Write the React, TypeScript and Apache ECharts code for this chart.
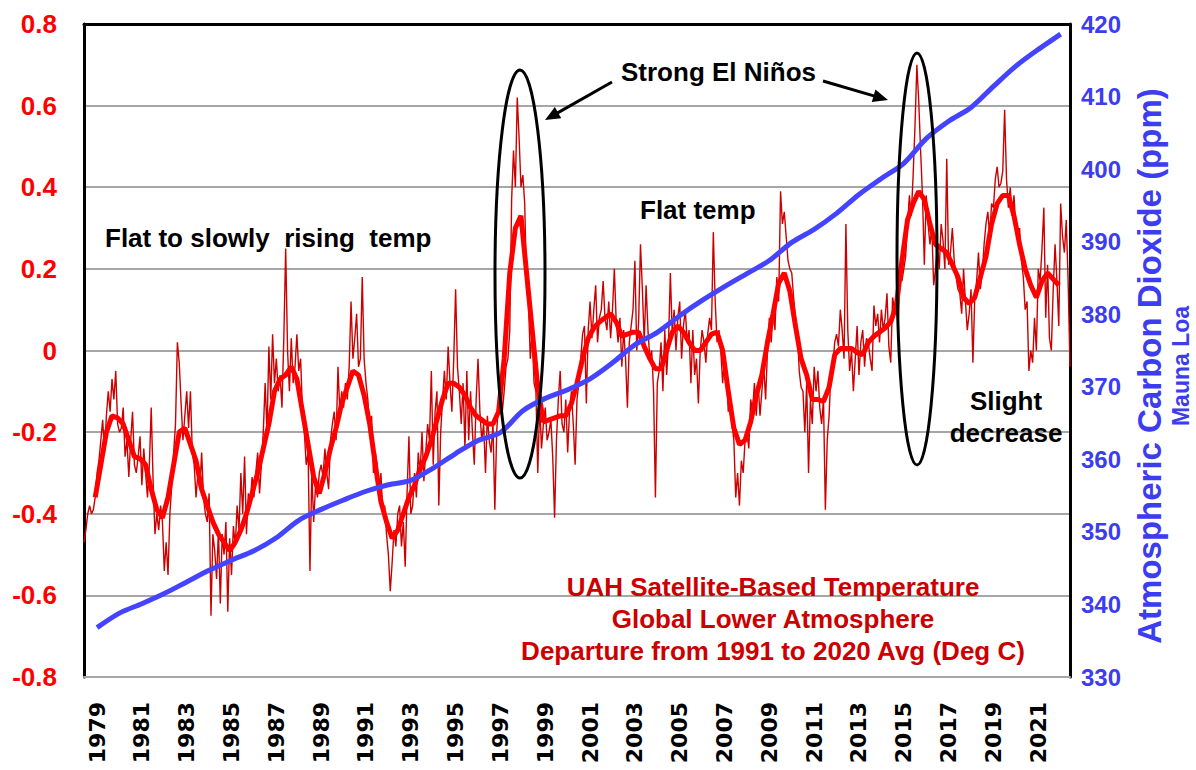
import React, { useEffect, useRef } from "react";
import * as echarts from "echarts";

// UAH global lower-troposphere monthly anomaly (deg C), Dec 1978 .. Dec 2022
const uahMonthly: number[] = [
  -0.47, // 1978 Dec
  -0.44, -0.40, -0.38, -0.40, -0.39, -0.36, -0.30, -0.27, -0.22, -0.17, -0.25, -0.16, // 1979
  -0.10, -0.15, -0.07, -0.12, -0.05, -0.18, -0.20, -0.19, -0.14, -0.26, -0.22, -0.31, // 1980
  -0.22, -0.15, -0.28, -0.30, -0.26, -0.21, -0.33, -0.24, -0.30, -0.36, -0.28, -0.14, // 1981
  -0.32, -0.45, -0.40, -0.44, -0.38, -0.42, -0.54, -0.47, -0.55, -0.40, -0.33, -0.25, // 1982
  -0.18, 0.02, -0.03, -0.13, -0.22, -0.16, -0.10, -0.19, -0.10, -0.25, -0.28, -0.36, // 1983
  -0.30, -0.34, -0.25, -0.36, -0.40, -0.42, -0.35, -0.65, -0.45, -0.49, -0.56, -0.44, // 1984
  -0.62, -0.45, -0.50, -0.42, -0.64, -0.46, -0.55, -0.43, -0.48, -0.38, -0.44, -0.30, // 1985
  -0.40, -0.26, -0.45, -0.35, -0.38, -0.31, -0.36, -0.30, -0.25, -0.35, -0.28, -0.20, // 1986
  -0.08, -0.20, 0.01, -0.12, 0.04, -0.08, -0.02, -0.10, -0.06, -0.14, 0.03, 0.25, // 1987
  0.00, -0.10, 0.03, -0.08, -0.04, 0.04, -0.05, -0.02, -0.15, -0.20, -0.28, -0.25, // 1988
  -0.54, -0.30, -0.42, -0.33, -0.36, -0.30, -0.28, -0.31, -0.24, -0.30, -0.34, -0.22, // 1989
  -0.18, -0.15, -0.22, -0.04, -0.15, -0.10, -0.14, -0.08, -0.12, -0.04, 0.12, -0.02, // 1990
  0.03, 0.09, -0.04, -0.02, 0.18, -0.02, -0.08, -0.12, -0.20, -0.16, -0.30, -0.25, // 1991
  -0.28, -0.36, -0.30, -0.40, -0.38, -0.45, -0.50, -0.59, -0.52, -0.44, -0.48, -0.40, // 1992
  -0.38, -0.48, -0.42, -0.53, -0.35, -0.21, -0.40, -0.38, -0.30, -0.36, -0.25, -0.30, // 1993
  -0.20, -0.32, -0.25, -0.18, -0.22, -0.05, -0.28, -0.15, -0.10, -0.38, -0.20, -0.12, // 1994
  -0.05, -0.12, 0.01, -0.08, -0.15, -0.02, 0.15, -0.04, -0.10, -0.18, -0.08, -0.24, // 1995
  -0.05, -0.22, -0.10, -0.20, -0.28, -0.12, -0.02, -0.15, -0.22, -0.18, -0.30, -0.16, // 1996
  -0.22, -0.25, -0.18, -0.39, -0.20, -0.12, -0.08, -0.15, -0.10, -0.04, -0.02, 0.05, // 1997
  0.37, 0.49, 0.40, 0.62, 0.52, 0.40, 0.43, 0.36, 0.15, 0.12, -0.02, 0.05, // 1998
  -0.08, -0.10, -0.30, -0.13, -0.24, -0.18, -0.14, -0.22, -0.20, -0.17, -0.26, -0.41, // 1999
  -0.22, -0.12, -0.05, -0.18, -0.20, -0.12, -0.25, -0.15, -0.10, -0.18, -0.28, -0.12, // 2000
  -0.08, -0.02, 0.04, 0.06, -0.13, 0.05, 0.12, 0.03, 0.10, 0.16, 0.02, 0.08, // 2001
  0.10, 0.17, 0.08, 0.05, 0.12, 0.03, 0.10, 0.20, 0.07, 0.02, 0.08, -0.04, // 2002
  0.05, -0.02, -0.14, 0.02, 0.06, 0.10, 0.22, 0.00, 0.07, 0.26, 0.15, 0.02, // 2003
  0.16, 0.05, -0.02, 0.00, -0.10, -0.36, -0.08, -0.05, 0.02, -0.10, 0.05, -0.06, // 2004
  0.02, 0.19, 0.04, 0.10, 0.00, 0.08, 0.12, -0.02, 0.06, 0.10, 0.02, 0.05, // 2005
  -0.08, 0.05, -0.06, -0.02, -0.13, 0.00, 0.05, 0.02, -0.03, 0.04, 0.08, 0.05, // 2006
  0.29, 0.12, 0.02, 0.05, 0.00, -0.08, -0.02, -0.05, -0.15, -0.10, -0.18, -0.22, // 2007
  -0.36, -0.30, -0.38, -0.27, -0.30, -0.22, -0.20, -0.24, -0.12, -0.15, -0.08, -0.16, // 2008
  -0.08, -0.16, -0.10, -0.04, -0.12, 0.00, 0.08, 0.02, 0.10, 0.05, 0.18, 0.12, // 2009
  0.39, 0.31, 0.34, 0.28, 0.22, 0.20, 0.19, 0.13, 0.08, 0.05, -0.05, -0.09, // 2010
  -0.10, -0.20, -0.08, -0.30, -0.12, -0.18, -0.04, -0.10, -0.05, -0.14, -0.18, -0.12, // 2011
  -0.39, -0.22, -0.16, -0.05, -0.04, 0.02, 0.04, 0.01, 0.10, 0.05, -0.02, 0.31, // 2012
  0.05, -0.05, 0.00, -0.10, -0.02, 0.06, -0.06, 0.02, 0.05, -0.04, 0.03, 0.02, // 2013
  -0.02, -0.05, 0.11, 0.06, 0.09, 0.02, 0.10, 0.05, 0.08, 0.14, 0.01, -0.03, // 2014
  0.13, 0.10, 0.12, 0.06, 0.18, 0.17, 0.20, 0.23, 0.31, 0.38, 0.33, 0.43, // 2015
  0.55, 0.70, 0.61, 0.49, 0.38, 0.21, 0.38, 0.31, 0.26, 0.30, 0.16, 0.20, // 2016
  0.26, 0.20, 0.31, 0.27, 0.20, 0.47, 0.21, 0.24, 0.30, 0.22, 0.18, 0.15, // 2017
  0.14, 0.09, 0.20, 0.12, 0.05, 0.09, 0.15, -0.03, 0.13, 0.17, 0.24, 0.15, // 2018
  0.19, 0.26, 0.31, 0.34, 0.28, 0.36, 0.35, 0.42, 0.45, 0.40, 0.41, 0.44, // 2019
  0.59, 0.42, 0.35, 0.40, 0.33, 0.38, 0.30, 0.28, 0.30, 0.22, 0.18, 0.10, // 2020
  0.12, -0.05, 0.00, -0.03, 0.08, 0.00, 0.20, 0.17, 0.25, 0.35, 0.08, 0.21, // 2021
  0.03, 0.00, 0.15, 0.26, 0.17, 0.06, 0.36, 0.28, 0.24, 0.32, 0.17, -0.04, // 2022
];
const uahFirstYear = 1978;
const uahFirstMonth = 12;

// 13-month running average, read every 3 months, starting Jun 1979
const runAvgFirstYear = 1979;
const runAvgFirstMonth = 6;
const runAvgStepMonths = 3;
const uahRunningAvg: number[] = [
  -0.36, -0.28, -0.20, -0.16, -0.165, -0.18, -0.22, -0.26, -0.265, -0.28, -0.34, -0.39,
  -0.41, -0.36, -0.28, -0.20, -0.19, -0.23, -0.27, -0.34, -0.38, -0.42, -0.45, -0.47,
  -0.49, -0.47, -0.44, -0.40, -0.35, -0.30, -0.24, -0.18, -0.10, -0.07, -0.06, -0.04,
  -0.07, -0.15, -0.23, -0.31, -0.35, -0.30, -0.24, -0.19, -0.13, -0.09, -0.05, -0.06,
  -0.11, -0.18, -0.28, -0.37, -0.42, -0.46, -0.44, -0.40, -0.36, -0.33, -0.29, -0.26,
  -0.22, -0.17, -0.12, -0.08, -0.08, -0.09, -0.11, -0.14, -0.16, -0.17, -0.18, -0.18,
  -0.15, -0.02, 0.19, 0.30, 0.33, 0.19, 0.05, -0.09, -0.175, -0.17, -0.165, -0.16,
  -0.16, -0.13, -0.08, -0.02, 0.03, 0.055, 0.07, 0.08, 0.09, 0.07, 0.035, 0.04,
  0.045, 0.045, 0.01, -0.02, -0.045, -0.045, 0.0, 0.045, 0.06, 0.045, 0.02, 0.0,
  0.0, 0.02, 0.04, 0.045, 0.0, -0.10, -0.19, -0.23, -0.22, -0.175, -0.11, -0.06,
  0.02, 0.09, 0.165, 0.19, 0.145, 0.06, -0.02, -0.06, -0.12, -0.12, -0.125, -0.09,
  -0.01, 0.005, 0.005, 0.005, -0.005, -0.01, 0.02, 0.035, 0.045, 0.055, 0.07, 0.11,
  0.22, 0.32, 0.36, 0.39, 0.37, 0.31, 0.26, 0.25, 0.24, 0.21, 0.18, 0.13,
  0.115, 0.13, 0.18, 0.23, 0.31, 0.36, 0.38, 0.38, 0.33, 0.26, 0.20, 0.16,
  0.13, 0.17, 0.19, 0.175, 0.16,
];

// Mauna Loa annual mean CO2 (ppm)
const co2Years: number[] = [
  1979, 1980, 1981, 1982, 1983, 1984, 1985, 1986, 1987, 1988, 1989, 1990, 1991, 1992, 1993,
  1994, 1995, 1996, 1997, 1998, 1999, 2000, 2001, 2002, 2003, 2004, 2005, 2006, 2007, 2008,
  2009, 2010, 2011, 2012, 2013, 2014, 2015, 2016, 2017, 2018, 2019, 2020, 2021, 2022,
];
const co2Ppm: number[] = [
  336.8, 338.8, 340.1, 341.5, 343.1, 344.7, 346.1, 347.4, 349.2, 351.6, 353.1, 354.4, 355.6, 356.5, 357.1,
  358.8, 360.8, 362.6, 363.7, 366.7, 368.4, 369.6, 371.1, 373.3, 375.8, 377.5, 379.8, 381.9, 383.8, 385.6,
  387.4, 389.9, 391.7, 393.9, 396.5, 398.7, 400.8, 404.2, 406.6, 408.5, 411.4, 414.2, 416.5, 418.6,
];

const xTickYears: number[] = [
  1979, 1981, 1983, 1985, 1987, 1989, 1991, 1993, 1995, 1997, 1999,
  2001, 2003, 2005, 2007, 2009, 2011, 2013, 2015, 2017, 2019, 2021,
];

const tempMin = -0.8;
const tempMax = 0.8;
const tempStep = 0.2;
const co2Min = 330;
const co2Max = 420;
const co2Step = 10;

const legendLines = [
  "UAH Satellite-Based Temperature",
  "Global Lower Atmosphere",
  "Departure from 1991 to 2020 Avg (Deg C)",
];

const monthToX = (year: number, month: number, offset: number) =>
  year + (month - 1 + offset) / 12;

const FONT = '"Liberation Sans", Arial, sans-serif';
const BLUE = "#3c3cf0";
const LINE_BLUE = "#4444ff";

function arrow(x1: number, y1: number, x2: number, y2: number) {
  const dx = x2 - x1;
  const dy = y2 - y1;
  const len = Math.hypot(dx, dy);
  const ux = dx / len;
  const uy = dy / len;
  const hl = 15;
  const hw = 6.5;
  const bx = x2 - ux * hl;
  const by = y2 - uy * hl;
  const nx = -uy;
  const ny = ux;
  return [
    {
      type: "line",
      shape: { x1, y1, x2: bx + ux * 2, y2: by + uy * 2 },
      style: { stroke: "#000", lineWidth: 3 },
      z: 20,
    },
    {
      type: "polygon",
      shape: {
        points: [
          [x2, y2],
          [bx + nx * hw, by + ny * hw],
          [bx - nx * hw, by - ny * hw],
        ],
      },
      style: { fill: "#000" },
      z: 20,
    },
  ];
}

function txt(
  text: string,
  x: number,
  y: number,
  size: number,
  fill: string,
  align: string = "left",
  rotation = 0,
) {
  return {
    type: "text",
    x,
    y,
    rotation,
    z: 25,
    style: {
      text,
      fill,
      font: `bold ${size}px ${FONT}`,
      align,
      verticalAlign: "middle",
    },
  };
}

export default function App() {
  const ref = useRef<HTMLDivElement>(null);

  useEffect(() => {
    if (!ref.current) return;
    const chart = echarts.init(ref.current, undefined, { renderer: "svg" });

    const thin = uahMonthly.map((v, i) => [monthToX(uahFirstYear, uahFirstMonth, i), v]);
    const thick = uahRunningAvg.map((v, i) => [
      monthToX(runAvgFirstYear, runAvgFirstMonth, i * runAvgStepMonths),
      v,
    ]);
    const co2 = co2Ppm.map((v, i) => [co2Years[i] + 0.5, v]);
    const xMin = monthToX(uahFirstYear, uahFirstMonth, 0);
    const xMax = monthToX(uahFirstYear, uahFirstMonth, uahMonthly.length - 1);

    const option: any = {
      animation: false,
      backgroundColor: "#fff",
      grid: { left: 84, right: 126, top: 24, bottom: 93, containLabel: false },
      xAxis: [
        {
          type: "value",
          min: xMin,
          max: xMax,
          position: "bottom",
          axisLine: { show: true, onZero: false, lineStyle: { color: "#a6a6a6", width: 2 } },
          axisTick: { show: false },
          splitLine: { show: false },
          axisLabel: {
            customValues: xTickYears.map((y) => y + 0.5),
            formatter: (v: number) => String(Math.floor(v)),
            rotate: 90,
            margin: 25,
            color: "#000",
            fontWeight: "bold",
            fontSize: 22,
            fontFamily: '"DejaVu Sans", sans-serif',
          },
        },
        {
          type: "value",
          min: xMin,
          max: xMax,
          position: "top",
          axisLine: { show: true, onZero: false, lineStyle: { color: "#000", width: 3 } },
          axisTick: { show: false },
          splitLine: { show: false },
          axisLabel: { show: false },
        },
      ],
      yAxis: [
        {
          type: "value",
          min: tempMin,
          max: tempMax,
          interval: tempStep,
          position: "left",
          axisLine: { show: true, onZero: false, lineStyle: { color: "#000", width: 3 } },
          axisTick: { show: false },
          splitLine: { show: true, lineStyle: { color: "#a6a6a6", width: 2 } },
          axisLabel: {
            margin: 27,
            color: "#ff0000",
            fontWeight: "bold",
            fontSize: 26,
            fontFamily: FONT,
            formatter: (v: number) => (Math.abs(v) < 1e-9 ? "0" : v.toFixed(1)),
          },
        },
        {
          type: "value",
          min: co2Min,
          max: co2Max,
          interval: co2Step,
          position: "right",
          axisLine: { show: true, onZero: false, lineStyle: { color: "#000", width: 3 } },
          axisTick: { show: false },
          splitLine: { show: false },
          axisLabel: {
            margin: 11,
            color: BLUE,
            fontWeight: "bold",
            fontSize: 24,
            fontFamily: FONT,
          },
        },
      ],
      series: [
        {
          name: "UAH monthly",
          type: "line",
          xAxisIndex: 0,
          yAxisIndex: 0,
          data: thin,
          symbol: "none",
          lineStyle: { color: "#cc0000", width: 1.4 },
          z: 2,
        },
        {
          name: "UAH 13-month average",
          type: "line",
          xAxisIndex: 0,
          yAxisIndex: 0,
          data: thick,
          symbol: "none",
          lineStyle: { color: "#ff0000", width: 5 },
          z: 3,
        },
        {
          name: "CO2 Mauna Loa",
          type: "line",
          xAxisIndex: 0,
          yAxisIndex: 1,
          data: co2,
          symbol: "none",
          smooth: 0.3,
          lineStyle: { color: LINE_BLUE, width: 5 },
          z: 4,
        },
      ],
      graphic: [
        {
          type: "ellipse",
          shape: { cx: 520, cy: 274, rx: 25, ry: 204 },
          style: { fill: "none", stroke: "#000", lineWidth: 3 },
          z: 20,
        },
        {
          type: "ellipse",
          shape: { cx: 917, cy: 259, rx: 20, ry: 206 },
          style: { fill: "none", stroke: "#000", lineWidth: 3 },
          z: 20,
        },
        ...arrow(612, 82, 545, 120),
        ...arrow(823, 81, 888, 100),
        txt("Flat to slowly  rising  temp", 105, 238, 26, "#000"),
        txt("Strong El Niños", 621, 72, 26, "#000"),
        txt("Flat temp", 640, 210, 26, "#000"),
        txt("Slight", 1006, 401, 26, "#000", "center"),
        txt("decrease", 1006, 433, 26, "#000", "center"),
        txt(legendLines[0], 773, 587, 26, "#cc0000", "center"),
        txt(legendLines[1], 773, 619, 26, "#cc0000", "center"),
        txt(legendLines[2], 773, 651, 26, "#cc0000", "center"),
        txt("Atmospheric Carbon Dioxide (ppm)", 1149, 366, 33, BLUE, "center", Math.PI / 2),
        txt("Mauna Loa", 1181, 366, 23, BLUE, "center", Math.PI / 2),
      ],
    };

    chart.setOption(option);
    return () => chart.dispose();
  }, []);

  return (
    <div
      ref={ref}
      style={{ position: "absolute", left: 0, top: 0, width: 1196, height: 770, background: "#fff" }}
    />
  );
}
